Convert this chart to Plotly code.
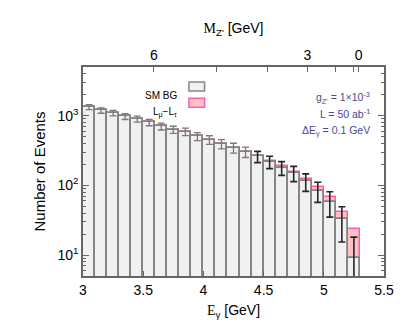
import plotly.graph_objects as go
import numpy as np

# photon energy bins (centres, GeV), bin width 0.1
e_gamma = [3.05, 3.15, 3.25, 3.35, 3.45, 3.55, 3.65, 3.75, 3.85, 3.95,
           4.05, 4.15, 4.25, 4.35, 4.45, 4.55, 4.65, 4.75, 4.85, 4.95,
           5.05, 5.15, 5.25]
sm_bg = [1330, 1190, 1093, 977, 897, 802, 703, 631, 591, 506,
         451, 394, 346, 303, 260, 218, 179, 150, 114, 84,
         58, 32.4, 9.1]
signal = [0, 0, 0, 0, 0, 0, 0, 0, 0, 0,
          0, 0, 0, 0, 2, 5, 10, 8, 11, 11,
          9, 9.6, 14.2]
errors = [110, 105, 100, 95, 90, 85, 80, 75, 73, 67,
          64, 60, 56, 52, 48, 44, 40, 37, 32, 27,
          23, 17, 9]

total = [b + s for b, s in zip(sm_bg, signal)]

# top axis: Z' mass, E = (s - M^2) / (2 sqrt(s)) at Belle II
sqrt_s = 10.58
mass_ticks = [6, 5, 4, 3, 2, 1, 0]
mass_labels = ["6", "", "", "3", "", "", "0"]
mass_pos = [(sqrt_s**2 - m**2) / (2 * sqrt_s) for m in mass_ticks]

n_black = 14  # bins from here on carry black error bars

fig = go.Figure()
fig.add_trace(go.Bar(x=e_gamma, y=total, width=0.1,
                     marker=dict(color="#ffc0c6", line=dict(color="#ff5fa8", width=1.5))))
fig.add_trace(go.Bar(x=e_gamma, y=sm_bg, width=0.1,
                     marker=dict(color="#f1f1f1", line=dict(color="#838383", width=1.8))))
fig.add_trace(go.Scatter(x=e_gamma[:n_black], y=sm_bg[:n_black], mode="markers",
                         marker=dict(size=1, color="rgba(0,0,0,0)"),
                         error_y=dict(type="data", array=errors[:n_black], color="#7a7a7a",
                                      thickness=1.3, width=3.5)))
fig.add_trace(go.Scatter(x=e_gamma[n_black:], y=sm_bg[n_black:], mode="markers",
                         marker=dict(size=1, color="rgba(0,0,0,0)"),
                         error_y=dict(type="data", array=errors[n_black:], color="#262626",
                                      thickness=1.6, width=3.5)))
fig.add_trace(go.Scatter(x=[None], y=[None], xaxis="x2", showlegend=False))

minor_vals = [k * 10**d for d in range(0, 4) for k in range(2, 10)]

fig.update_layout(
    width=415, height=329,
    margin=dict(l=75, r=39, t=59, b=61),
    paper_bgcolor="white", plot_bgcolor="white",
    barmode="overlay", bargap=0, showlegend=False,
    font=dict(family="Liberation Sans, Arial", size=14, color="black"),
    xaxis=dict(range=[3, 5.5], tickvals=[3, 3.5, 4, 4.5, 5, 5.5],
               ticks="inside", ticklen=5, tickcolor="#666",
               showline=True, linecolor="#666", linewidth=1.5, showgrid=False, zeroline=False,
               title=dict(text='<span style="font-family:Liberation Serif">E</span><sub>γ</sub> [GeV]',
                          font=dict(size=14), standoff=9)),
    xaxis2=dict(overlaying="x", side="top", range=[3, 5.5],
                tickvals=mass_pos, ticktext=mass_labels,
                ticks="inside", ticklen=5, tickcolor="#666",
                showline=True, linecolor="#666", linewidth=1.5, showgrid=False, zeroline=False,
                title=dict(text='<span style="font-family:Liberation Serif">M</span><sub>Z\'</sub> [GeV]',
                           font=dict(size=14), standoff=10)),
    yaxis=dict(type="log", range=[np.log10(5), np.log10(5000)],
               tickvals=[10, 100, 1000],
               ticktext=["10<sup>1</sup>", "10<sup>2</sup>", "10<sup>3</sup>"],
               ticks="inside", ticklen=6, tickcolor="#666", mirror="ticks",
               minor=dict(tickvals=minor_vals, ticks="inside", ticklen=3, tickcolor="#666"),
               showline=True, linecolor="#666", linewidth=1.5, showgrid=False, zeroline=False,
               title=dict(text="Number of Events", font=dict(size=15), standoff=8)),
)

# gnuplot-style key: label on the left, sample box on the right
fig.add_annotation(x=0.32, y=0.9, xref="paper", yref="paper", text="SM BG",
                   showarrow=False, xanchor="right", font=dict(size=10))
fig.add_annotation(x=0.32, y=0.824, xref="paper", yref="paper", text="L<sub>μ</sub>−L<sub>τ</sub>",
                   showarrow=False, xanchor="right", font=dict(size=10))
fig.add_shape(type="rect", xref="paper", yref="paper", x0=0.352, x1=0.404, y0=0.885, y1=0.928,
              fillcolor="#f1f1f1", line=dict(color="#878787", width=1.5))
fig.add_shape(type="rect", xref="paper", yref="paper", x0=0.352, x1=0.404, y0=0.808, y1=0.85,
              fillcolor="#ffc0c6", line=dict(color="#ff5fa8", width=1.5))

info_color = "#4a4a94"
fig.add_annotation(x=0.96, y=0.9, xref="paper", yref="paper",
                   text="g<sub>Z'</sub> = 1×10<sup>-3</sup>",
                   showarrow=False, xanchor="right", font=dict(size=10.5, color=info_color))
fig.add_annotation(x=0.96, y=0.818, xref="paper", yref="paper",
                   text="L = 50 ab<sup>-1</sup>",
                   showarrow=False, xanchor="right", font=dict(size=10.5, color=info_color))
fig.add_annotation(x=0.96, y=0.736, xref="paper", yref="paper",
                   text="ΔE<sub>γ</sub> = 0.1 GeV",
                   showarrow=False, xanchor="right", font=dict(size=10.5, color=info_color))

fig.write_html("out.html")
